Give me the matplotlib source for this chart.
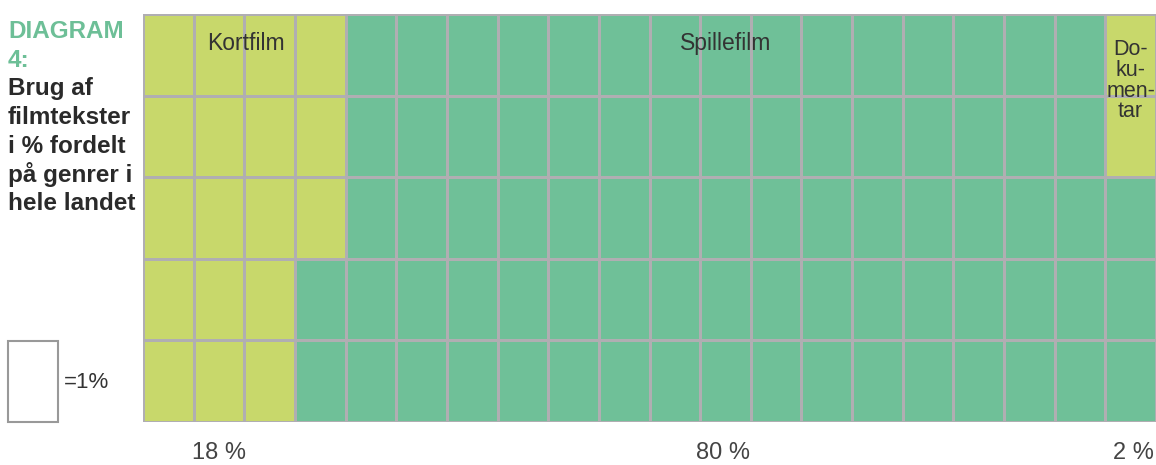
import numpy as np
import matplotlib
matplotlib.use('Agg')
import matplotlib.pyplot as plt
from matplotlib.colors import ListedColormap
from matplotlib.patches import Rectangle

plt.rcParams['font.family'] = ['Liberation Sans', 'DejaVu Sans']

# --- data ---
genres  = ['Kortfilm', 'Spillefilm', 'Dokumentar']
shares  = [18, 80, 2]
share_labels = ['18 %', '80 %', '2 %']
inside_labels = ['Kortfilm', 'Spillefilm', 'Do-\nku-\nmen-\ntar']
title_lines = ['DIAGRAM', '4:', 'Brug af', 'filmtekster', 'i % fordelt', 'på genrer i', 'hele landet']
n_rows, n_cols = 5, 20

yellow = '#c8d86b'
green  = '#6fc098'
line   = '#b0aeb2'

# cell grid: kortfilm filled from the left, dokumentar from the right, column by column
grid = np.ones((n_rows, n_cols), dtype=int)
k = 0
for c in range(n_cols):
    for r in range(n_rows):
        if k < shares[0]:
            grid[r, c] = 0
            k += 1
k = 0
for c in range(n_cols - 1, -1, -1):
    for r in range(n_rows):
        if k < shares[2]:
            grid[r, c] = 2
            k += 1

W, H = 1156, 465
fig = plt.figure(figsize=(W / 100, H / 100), dpi=100)
ax = fig.add_axes([143/W, 1 - 422/H, 1013/W, 408/H])
cmap = ListedColormap([yellow, green, yellow])
ax.pcolormesh(np.arange(n_cols + 1), np.arange(n_rows + 1), grid, cmap=cmap,
              vmin=-0.5, vmax=2.5, edgecolors=line, linewidth=2)
ax.set_xlim(0, n_cols)
ax.set_ylim(n_rows, 0)
ax.axis('off')

# labels inside the grid
ax.text(2.03, 0.36, inside_labels[0], ha='center', va='center', fontsize=16.5, color='#333333')
ax.text(11.5, 0.36, inside_labels[1], ha='center', va='center', fontsize=16.5, color='#333333')
ax.text(19.5, 0.82, inside_labels[2], ha='center', va='center', fontsize=15.5,
        color='#333333', linespacing=0.98)

# percent labels below
label_x = [1.5, 11.45, 19.55]
for x, s in zip(label_x, share_labels):
    ax.text(x, 5.38, s, ha='center', va='center', fontsize=17, color='#444444', clip_on=False)

# title block on the left, one line at a time
for i, s in enumerate(title_lines):
    col = '#6dbf97' if i < 2 else '#2a2a2a'
    fig.text(8/W, 1 - (38 + 28.7 * i)/H, s, ha='left', va='baseline', fontsize=17.5,
             fontweight='bold', color=col)

# legend box
fig.patches.append(Rectangle((8/W, 1 - 422/H), 50/W, 81/H,
                             transform=fig.transFigure, facecolor='white',
                             edgecolor='#999999', linewidth=1.5))
fig.text(64/W, 1 - 383/H, '=1%', ha='left', va='center', fontsize=16, color='#333333')

fig.savefig('out.png', dpi=100)
